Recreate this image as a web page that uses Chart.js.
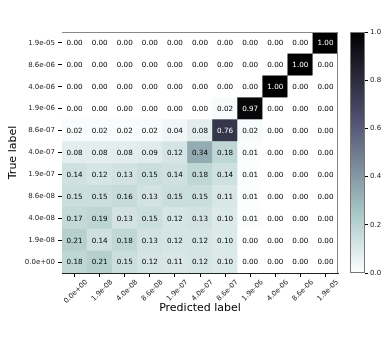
<!DOCTYPE html>
<html>
<head>
<meta charset="utf-8">
<script src="https://cdn.jsdelivr.net/npm/chart.js@4.4.1/dist/chart.umd.min.js"></script>
<style>
  body { margin: 0; background: #fff; }
  .wrap { position: relative; width: 390px; height: 339px; }
  canvas { position: absolute; top: 0; }
  #myChart { left: 0; }
  #barChart { left: 335px; }
</style>
</head>
<body>
<div class="wrap">
  <canvas id="myChart" width="345" height="339"></canvas>
  <canvas id="barChart" width="55" height="339"></canvas>
</div>
<script>
// predicted labels, left to right
const predLabels = ["0.0e+00", "1.9e-08", "4.0e-08", "8.6e-08", "1.9e-07", "4.0e-07",
  "8.6e-07", "1.9e-06", "4.0e-06", "8.6e-06", "1.9e-05"];
// true labels, bottom to top
const trueLabels = ["0.0e+00", "1.9e-08", "4.0e-08", "8.6e-08", "1.9e-07", "4.0e-07",
  "8.6e-07", "1.9e-06", "4.0e-06", "8.6e-06", "1.9e-05"];

// one row per true label
const rowTrue0e00 = [0.18, 0.21, 0.15, 0.12, 0.11, 0.12, 0.10, 0.00, 0.00, 0.00, 0.00];
const rowTrue19e08 = [0.21, 0.14, 0.18, 0.13, 0.12, 0.12, 0.10, 0.00, 0.00, 0.00, 0.00];
const rowTrue40e08 = [0.17, 0.19, 0.13, 0.15, 0.12, 0.13, 0.10, 0.01, 0.00, 0.00, 0.00];
const rowTrue86e08 = [0.15, 0.15, 0.16, 0.13, 0.15, 0.15, 0.11, 0.01, 0.00, 0.00, 0.00];
const rowTrue19e07 = [0.14, 0.12, 0.13, 0.15, 0.14, 0.18, 0.14, 0.01, 0.00, 0.00, 0.00];
const rowTrue40e07 = [0.08, 0.08, 0.08, 0.09, 0.12, 0.34, 0.18, 0.01, 0.00, 0.00, 0.00];
const rowTrue86e07 = [0.02, 0.02, 0.02, 0.02, 0.04, 0.08, 0.76, 0.02, 0.00, 0.00, 0.00];
const rowTrue19e06 = [0.00, 0.00, 0.00, 0.00, 0.00, 0.00, 0.02, 0.97, 0.00, 0.00, 0.00];
const rowTrue40e06 = [0.00, 0.00, 0.00, 0.00, 0.00, 0.00, 0.00, 0.00, 1.00, 0.00, 0.00];
const rowTrue86e06 = [0.00, 0.00, 0.00, 0.00, 0.00, 0.00, 0.00, 0.00, 0.00, 1.00, 0.00];
const rowTrue19e05 = [0.00, 0.00, 0.00, 0.00, 0.00, 0.00, 0.00, 0.00, 0.00, 0.00, 1.00];

const colorTicks = [0, 0.2, 0.4, 0.6, 0.8, 1.0];

const matrix = [rowTrue0e00, rowTrue19e08, rowTrue40e08, rowTrue86e08, rowTrue19e07,
  rowTrue40e07, rowTrue86e07, rowTrue19e06, rowTrue40e06, rowTrue86e06, rowTrue19e05];

const FONT = "'DejaVu Sans', sans-serif";

// matplotlib "bone" colormap, reversed
function lerpSeg(x, pts) {
  for (let i = 1; i < pts.length; i++) {
    if (x <= pts[i][0]) {
      const t = (x - pts[i - 1][0]) / (pts[i][0] - pts[i - 1][0]);
      return pts[i - 1][1] + t * (pts[i][1] - pts[i - 1][1]);
    }
  }
  return pts[pts.length - 1][1];
}
function boneR(v) {
  const x = 1 - Math.max(0, Math.min(1, v));
  const r = lerpSeg(x, [[0, 0], [0.746032, 0.652778], [1, 1]]);
  const g = lerpSeg(x, [[0, 0], [0.365079, 0.319444], [0.746032, 0.777778], [1, 1]]);
  const b = lerpSeg(x, [[0, 0], [0.365079, 0.444444], [1, 1]]);
  return `rgb(${Math.round(r * 255)}, ${Math.round(g * 255)}, ${Math.round(b * 255)})`;
}

const datasets = matrix.map((row, r) => ({
  label: trueLabels[r],
  data: row.map(() => [r, r + 1]),
  backgroundColor: row.map((v) => boneR(v)),
  borderWidth: 0,
  barPercentage: 1,
  categoryPercentage: 1,
}));

const cellText = {
  id: "cellText",
  afterDatasetsDraw(chart) {
    const { ctx, scales: { x, y } } = chart;
    ctx.save();
    ctx.font = "7.2px " + FONT;
    ctx.textAlign = "center";
    ctx.textBaseline = "middle";
    matrix.forEach((row, r) => {
      row.forEach((v, c) => {
        ctx.fillStyle = v > 0.5 ? "#fff" : "#000";
        ctx.fillText(v.toFixed(2), x.getPixelForValue(c), y.getPixelForValue(r + 0.5) + 0.5);
      });
    });
    ctx.restore();
  },
};

const frame = {
  id: "frame",
  afterDraw(chart) {
    const { ctx, chartArea: a } = chart;
    ctx.save();
    ctx.strokeStyle = "#888";
    ctx.lineWidth = 1;
    ctx.beginPath();
    ctx.moveTo(a.left, a.top + 0.5);
    ctx.lineTo(a.right - 0.5, a.top + 0.5);
    ctx.lineTo(a.right - 0.5, a.bottom);
    ctx.stroke();
    ctx.restore();
  },
};

const ctx = document.getElementById("myChart").getContext("2d");
const myChart = new Chart(ctx, {
  type: "bar",
  data: { labels: predLabels, datasets: datasets },
  plugins: [cellText, frame],
  options: {
    responsive: false,
    animation: false,
    devicePixelRatio: 1,
    layout: { padding: { top: 32, right: 7, bottom: 24, left: 0 } },
    plugins: { legend: { display: false }, tooltip: { enabled: false } },
    scales: {
      x: {
        stacked: true,
        grid: { display: true, drawOnChartArea: false, offset: false, tickLength: 4, color: "#000" },
        border: { display: true, color: "#222", width: 1 },
        ticks: {
          color: "#222", font: { family: FONT, size: 7 },
          minRotation: 45, maxRotation: 45, autoSkip: false, padding: 1, labelOffset: 12,
        },
        title: {
          display: true, text: "Predicted label", color: "#000",
          font: { family: FONT, size: 11 }, padding: { top: 0, bottom: 0 },
        },
        afterFit: (scale) => { scale.height = 42; },
      },
      y: {
        min: 0,
        max: trueLabels.length,
        grid: { display: true, drawOnChartArea: false, tickLength: 4, color: "#000" },
        border: { display: true, color: "#222", width: 1 },
        afterBuildTicks: (scale) => {
          scale.ticks = trueLabels.map((l, i) => ({ value: i + 0.5 }));
        },
        ticks: {
          color: "#222", font: { family: FONT, size: 7 }, padding: 3, autoSkip: false,
          callback: (v) => trueLabels[Math.round(v - 0.5)],
        },
        title: {
          display: true, text: "True label", color: "#000",
          font: { family: FONT, size: 11 }, padding: { top: 7, bottom: 0 },
        },
        afterFit: (scale) => { scale.width = 62; },
      },
    },
  },
});

// colorbar
const barOutline = {
  id: "barOutline",
  afterDraw(chart) {
    const { ctx, chartArea: a } = chart;
    ctx.save();
    ctx.strokeStyle = "#777";
    ctx.lineWidth = 1;
    ctx.strokeRect(a.left + 0.5, a.top + 0.5, a.right - a.left - 1, a.bottom - a.top - 1);
    ctx.restore();
  },
};

const barCtx = document.getElementById("barChart").getContext("2d");
const barChart = new Chart(barCtx, {
  type: "bar",
  data: {
    labels: [""],
    datasets: [{
      data: [[0, 1]],
      borderWidth: 0,
      barPercentage: 1,
      categoryPercentage: 1,
      backgroundColor: (c) => {
        const a = c.chart.chartArea;
        if (!a) return "#fff";
        const g = c.chart.ctx.createLinearGradient(0, a.bottom, 0, a.top);
        [0, 0.253968, 0.634921, 1].forEach((s) => g.addColorStop(s, boneR(s)));
        return g;
      },
    }],
  },
  plugins: [barOutline],
  options: {
    responsive: false,
    animation: false,
    devicePixelRatio: 1,
    layout: { padding: { top: 32, right: 0, bottom: 66, left: 15 } },
    plugins: { legend: { display: false }, tooltip: { enabled: false } },
    scales: {
      x: { display: false },
      y: {
        position: "right",
        min: 0,
        max: 1,
        afterBuildTicks: (scale) => {
          scale.ticks = colorTicks.map((v) => ({ value: v }));
        },
        grid: { display: true, drawOnChartArea: false, tickLength: 3, color: "#000" },
        border: { display: false },
        ticks: {
          color: "#222", font: { family: FONT, size: 7 }, padding: 2,
          callback: (v) => v.toFixed(1),
        },
        afterFit: (scale) => { scale.width = 25; },
      },
    },
  },
});
</script>
</body>
</html>
